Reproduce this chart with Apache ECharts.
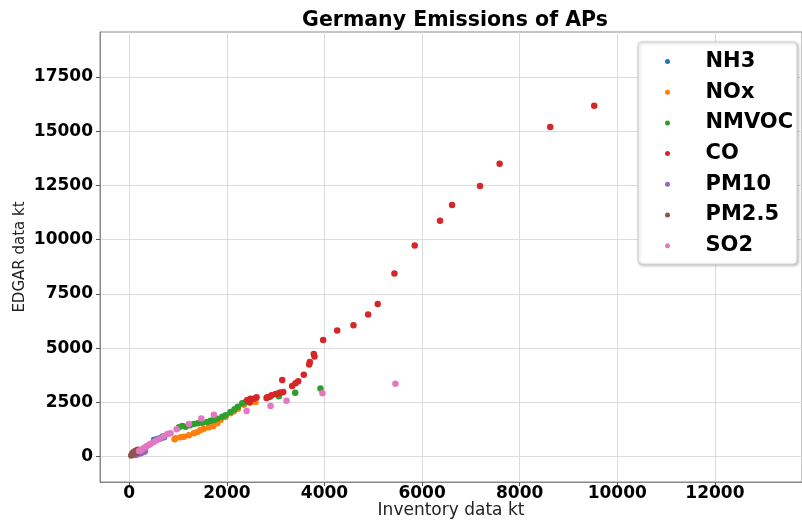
<!DOCTYPE html>
<html>
<head>
<meta charset="utf-8">
<script src="https://cdn.jsdelivr.net/npm/echarts@6/dist/echarts.min.js"></script>
<style>
html,body{margin:0;padding:0;background:#fff;}
#chart{width:802px;height:520px;}
</style>
</head>
<body>
<div id="chart"></div>
<script>
var xTicks = [0, 2000, 4000, 6000, 8000, 10000, 12000];
var yTicks = [0, 2500, 5000, 7500, 10000, 12500, 15000, 17500];

var seriesNames = ['NH3', 'NOx', 'NMVOC', 'CO', 'PM10', 'PM2.5', 'SO2'];
var seriesColors = ['#1f77b4', '#ff7f0e', '#2ca02c', '#d62728', '#9467bd', '#8c564b', '#e377c2'];

var NH3 = [[506,770],[560,800],[600,830],[643,849],[678,922],[698,936],[711,895]];
var NOx = [[929,803],[950,849],[1052,895],[1120,922],[1222,987],[1324,1079],[1394,1139],[1462,1232],[1529,1292],[1632,1356],[1722,1416],[1803,1541],[1871,1693],[1973,1845],[2076,2002],[2143,2094],[2225,2214],[2348,2399],[2471,2491],[2588,2523]];
var NMVOC = [[1018,1356],[1086,1416],[1155,1384],[1243,1448],[1324,1508],[1406,1541],[1496,1568],[1599,1601],[1666,1660],[1734,1693],[1803,1753],[1906,1845],[1973,1910],[2076,2062],[2158,2186],[2225,2306],[2315,2463],[2383,2523],[3065,2786],[3400,2952],[3918,3140]];
var CO = [[9527,16176],[8626,15194],[7589,13501],[7187,12472],[6614,11596],[6368,10872],[5849,9733],[5433,8441],[5091,7043],[4894,6550],[4594,6061],[4260,5812],[3973,5383],[3795,4612],[3781,4737],[3699,4368],[3687,4245],[3576,3782],[3462,3478],[3406,3385],[3338,3261],[3134,3538],[3155,2985],[3100,2952],[3079,2952],[3017,2892],[2997,2892],[2915,2832],[2880,2768],[2827,2740],[2813,2708],[2608,2740],[2553,2675],[2485,2675],[2471,2523],[2418,2615]];
var PM10 = [[131,78],[180,120],[233,157],[260,190],[301,231],[320,250]];
var PM25 = [[40,60],[63,157],[80,120],[97,231],[110,190],[131,277],[150,250],[166,185],[175,320],[190,300]];
var SO2 = [[5453,3367],[3959,2924],[3222,2583],[2895,2338],[2404,2100],[1734,1930],[1476,1760],[1222,1508],[970,1264],[844,1079],[780,1047],[700,930],[620,820],[560,760],[500,680],[440,600],[400,540],[350,480],[300,400],[260,340],[230,300],[200,260]];

var seriesData = [NH3, NOx, NMVOC, CO, PM10, PM25, SO2];

var chart = echarts.init(document.getElementById('chart'), null, {renderer: 'canvas'});

var series = seriesNames.map(function (n, i) {
  return {
    name: n,
    type: 'scatter',
    data: seriesData[i],
    symbolSize: 6.5,
    itemStyle: {color: seriesColors[i], opacity: 1},
    emphasis: {disabled: true}
  };
});

function plain(v) { return String(v); }

var option = {
  animation: false,
  backgroundColor: '#fff',
  title: {
    text: 'Germany Emissions of APs',
    left: 450, top: 5,
    textAlign: 'center',
    textStyle: {fontFamily: 'DejaVu Sans', fontWeight: 'bold', fontSize: 20.5, color: '#000'}
  },
  legend: {
    orient: 'vertical',
    left: 638, top: 42,
    padding: [9, 4, 8, 27],
    itemGap: 9.7,
    itemWidth: 20, itemHeight: 5,
    icon: 'circle',
    backgroundColor: '#fff',
    borderColor: '#cccccc',
    borderWidth: 1,
    borderRadius: 4,
    shadowColor: 'rgba(0,0,0,0.25)',
    shadowBlur: 3, shadowOffsetX: 1, shadowOffsetY: 1,
    textStyle: {fontFamily: 'DejaVu Sans', fontWeight: 'bold', fontSize: 21, lineHeight: 20, color: '#000', padding: [0, 0, 0, 23]},
    data: seriesNames
  },
  grid: {left: 100, top: 32, right: 0, bottom: 38, outerBoundsMode: 'none', containLabel: false,
         show: true, borderColor: '#888', borderWidth: 1, backgroundColor: 'transparent'},
  xAxis: {
    type: 'value', min: -600, max: 13785,
    name: 'Inventory data kt', nameLocation: 'middle', nameGap: 20, nameMoveOverlap: false,
    nameTextStyle: {fontFamily: 'DejaVu Sans', fontSize: 17, color: '#222', verticalAlign: 'top'},
    axisLine: {show: true, onZero: false, lineStyle: {color: '#888', width: 1}},
    axisTick: {show: true, length: 4, lineStyle: {color: '#555'}, customValues: xTicks},
    axisLabel: {customValues: xTicks, formatter: plain, fontFamily: 'DejaVu Sans', fontWeight: 'bold', fontSize: 17, color: '#000', margin: 3},
    splitLine: {show: true, lineStyle: {color: '#dcdcdc', width: 1}, customValues: xTicks}
  },
  yAxis: {
    type: 'value', min: -1167, max: 19575,
    name: 'EDGAR data kt', nameLocation: 'middle', nameGap: 72, nameMoveOverlap: false,
    nameTextStyle: {fontFamily: 'DejaVu Sans', fontSize: 15, color: '#222'},
    axisLine: {show: true, onZero: false, lineStyle: {color: '#888', width: 1}},
    axisTick: {show: true, length: 4, lineStyle: {color: '#555'}, customValues: yTicks},
    axisLabel: {customValues: yTicks, formatter: plain, fontFamily: 'DejaVu Sans', fontWeight: 'bold', fontSize: 17, color: '#000', margin: 7},
    splitLine: {show: true, lineStyle: {color: '#dcdcdc', width: 1}, customValues: yTicks}
  },
  series: series
};
chart.setOption(option);
</script>
</body>
</html>
